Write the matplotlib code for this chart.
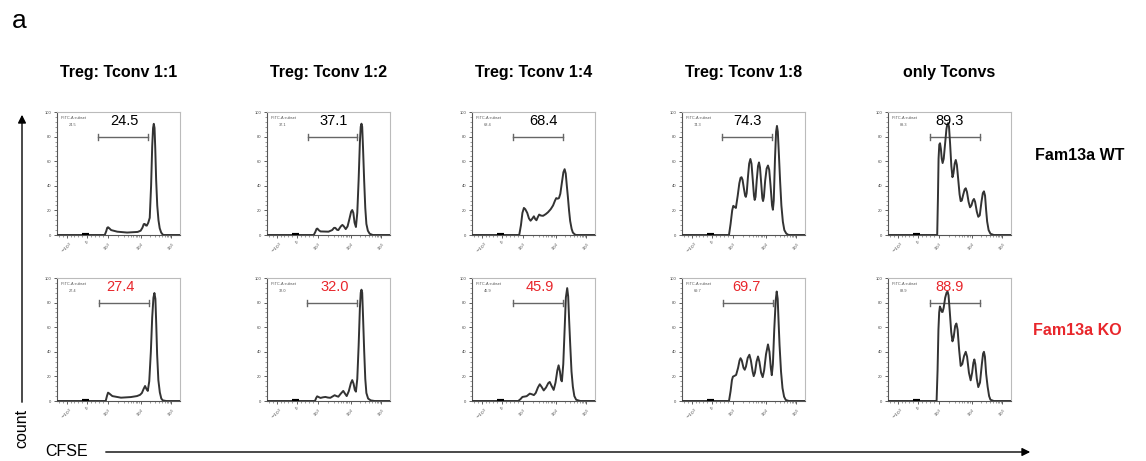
import matplotlib.pyplot as plt
from matplotlib.patches import FancyArrowPatch
import numpy as np

plt.rcParams['font.family'] = ['Liberation Sans', 'DejaVu Sans']

#----------------------------------------------------------------------------------------------------
# data (x = % of the logicle axis width, y = % of max)
#----------------------------------------------------------------------------------------------------
titles = ['Treg: Tconv 1:1', 'Treg: Tconv 1:2', 'Treg: Tconv 1:4', 'Treg: Tconv 1:8', 'only Tconvs']
row_labels = ['Fam13a WT', 'Fam13a KO']

pct_wt = ['24.5', '37.1', '68.4', '74.3', '89.3']
pct_ko = ['27.4', '32.0', '45.9', '69.7', '88.9']

gate_lo_wt = [33.6, 33.3, 33.0, 32.8, 34.0]
gate_hi_wt = [74.3, 73.3, 74.0, 73.1, 74.5]
gate_lo_ko = [34.2, 32.8, 33.0, 33.3, 34.1]
gate_hi_ko = [75.1, 72.8, 74.0, 73.7, 74.5]

num_x_wt = [54.6, 54.0, 57.8, 53.0, 49.7]
num_x_ko = [51.4, 55.0, 55.0, 52.0, 49.7]

wt_1 = [(0, 0), (38.8, 0), (40, 3), (40.8, 5.8), (41.5, 6.3), (42.5, 5.5), (44, 4), (49, 2.7), (57, 2), (65.6, 2.5),
        (68, 3.5), (69.5, 6), (70.5, 8.8), (71.3, 9), (72.2, 7.8), (73, 7.6), (74.2, 10), (75.4, 14), (76.5, 40),
        (77.4, 72), (78.1, 87), (78.7, 90.4), (79.3, 87), (79.9, 70), (80.6, 45), (81.5, 24), (82.5, 12), (83.5, 5.5),
        (84.7, 2), (86, 0.3), (87, 0), (100, 0)]
wt_2 = [(0, 0), (38, 0), (39.3, 2.5), (40.3, 5), (41, 5.2), (42, 4), (43.5, 2.9), (50, 2.7), (53, 4), (54.5, 5.8),
        (55.5, 5.8), (57, 4.2), (58, 4), (60, 7), (61.3, 8.2), (62.5, 7), (64, 4.8), (65.5, 7), (67, 13), (68.4, 19),
        (69.3, 20.3), (70.2, 18), (71.2, 10), (72.3, 6.5), (73.4, 18), (74.5, 45), (75.5, 75), (76.2, 88), (76.8, 90.5),
        (77.4, 88), (78.1, 70), (79, 44), (79.9, 22), (80.8, 9), (82, 3.5), (83.5, 1), (86, 0), (100, 0)]
wt_3 = [(0, 0), (38.4, 0), (39.8, 8), (41, 18), (42.2, 22), (43.3, 21), (44.9, 18), (46.3, 13.5), (47.6, 11.6),
        (48.8, 13), (50.3, 15.2), (51.4, 13), (52.4, 12), (53.5, 14.5), (54.6, 16.6), (56, 15.8), (57.8, 15.6),
        (60, 17), (61.8, 18.5), (64, 21), (65.9, 24), (67.5, 28), (68.5, 30), (69.6, 29.5), (70.7, 30), (71.8, 33.5),
        (73, 42), (74.3, 51), (75.3, 53.5), (76.2, 50), (77.1, 40), (77.9, 31.6), (78.9, 20), (79.8, 11.4), (81, 5),
        (82, 2), (83.5, 0.5), (84.7, 0), (100, 0)]
wt_4 = [(0, 0), (38.2, 0), (39.5, 9), (40.8, 20), (41.7, 23.7), (42.6, 23), (43.8, 22), (45.3, 32), (46.6, 42),
        (47.6, 46.5), (48.4, 47), (49.2, 45), (50.3, 38), (51.3, 32), (51.9, 31), (52.6, 34), (53.6, 47), (54.6, 58),
        (55.6, 61.8), (56.5, 58), (57.6, 44), (58.5, 32), (59.1, 28.5), (59.8, 31), (60.8, 45), (61.8, 56), (62.6, 59),
        (63.4, 55), (64.4, 42), (65.3, 30), (65.9, 27.6), (66.6, 31), (67.6, 44), (68.8, 54), (69.9, 56.5), (70.9, 53),
        (72, 40), (73.2, 24), (73.9, 20.5), (74.6, 28), (75.6, 62), (76.5, 84), (77.2, 88.7), (77.9, 84), (78.8, 65),
        (79.8, 43), (80.8, 24), (82, 10.8), (83.2, 4), (84.7, 1.3), (86, 0.3), (87.4, 0), (100, 0)]
wt_5 = [(0, 0), (40, 0), (40.6, 30), (41.1, 62), (41.7, 73.5), (42.3, 74.6), (43, 70), (43.7, 62), (44.4, 58.5),
        (45.3, 62), (46.4, 74), (47.5, 86), (48.2, 90), (48.9, 91), (49.6, 88), (50.5, 74), (51.5, 56), (52.4, 47),
        (53.2, 50), (54.2, 58), (55.1, 61), (56, 57), (57.2, 44), (58.2, 33), (59.1, 27.5), (60, 28), (61.2, 33),
        (62.3, 37), (63.2, 38), (64.2, 35), (65.5, 27), (66.7, 22.5), (67.8, 24), (69, 28), (69.9, 29.3), (70.8, 27),
        (72.2, 19), (73.4, 14.8), (74.6, 16), (76, 27), (77.1, 34), (78, 35.5), (78.9, 32), (79.8, 20), (80.6, 11),
        (81.8, 4), (83.3, 1), (86, 0), (100, 0)]

ko_1 = [(0, 0), (39.6, 0), (40.6, 4), (41.5, 6.8), (42.6, 6), (45, 4), (52, 2.7), (60, 3.2), (65, 4), (67.5, 5),
        (69, 6.5), (70.5, 10), (71.6, 12.2), (72.6, 10), (73.8, 8.2), (75, 16), (76.3, 40), (77.4, 68), (78.4, 84),
        (79.2, 87.8), (80, 83), (80.7, 62), (81.4, 38), (82.4, 17), (83.6, 7), (84.8, 2), (86, 0.5), (88.8, 0), (100, 0)]
ko_2 = [(0, 0), (39, 0), (40, 2.5), (40.8, 3.8), (42, 3.2), (43.5, 2.5), (45.5, 3), (47.5, 3.3), (49.5, 2.8),
        (51.5, 2.6), (53.5, 3.8), (55, 4.7), (56.5, 4), (58, 3.5), (60, 6), (62, 8.2), (63.4, 6), (64.8, 4), (66.5, 8),
        (68.2, 14.5), (69.3, 17), (70.4, 14), (71.4, 9), (72.3, 7.6), (73.4, 18), (74.5, 45), (75.5, 75), (76.2, 88),
        (76.8, 90.5), (77.4, 88), (78.1, 68), (79, 41), (79.9, 18), (80.8, 6.5), (82.2, 2), (84.3, 0.5), (87.5, 0),
        (100, 0)]
ko_3 = [(0, 0), (37.6, 0), (39.4, 1.5), (41, 3.3), (42.7, 3.6), (44.4, 3.9), (45.8, 5), (47, 6), (48.6, 5.5),
        (50.3, 4.8), (51.8, 6.5), (53.6, 11), (55.1, 13.6), (56.6, 11.5), (58.3, 8.6), (60.2, 11), (62, 14.5),
        (63.2, 15.5), (64.6, 12.5), (66.4, 9), (67.9, 15), (69.4, 25), (70.4, 29), (71.5, 24), (72.4, 17), (73.1, 16),
        (74.2, 30), (75.3, 58), (76.3, 84), (77.4, 91.8), (78.2, 85), (79, 65), (79.8, 47), (80.9, 24), (82, 11.6),
        (83.2, 4), (84.7, 1), (88, 0), (100, 0)]
ko_4 = [(0, 0), (38.2, 0), (39.5, 8), (40.6, 17), (41.4, 19.8), (42.6, 20.4), (44, 21.2), (45.6, 27), (46.8, 33),
        (47.6, 34.8), (48.6, 33), (50, 27), (51, 25.4), (52, 28), (53.4, 35), (54.8, 37.6), (56, 33), (57.4, 24),
        (58.3, 20.2), (59.3, 23), (60.6, 32), (61.8, 36.2), (62.9, 32), (64.3, 23), (65.6, 19.4), (66.8, 25),
        (68.3, 38), (69.9, 46), (71.1, 40), (72.2, 27), (73, 21), (73.9, 30), (75, 58), (76.2, 82), (77, 89),
        (77.8, 83), (78.5, 65), (79.3, 45.6), (80.5, 24), (81.7, 10.5), (83, 3.5), (84.4, 0.8), (87, 0), (100, 0)]
ko_5 = [(0, 0), (39.5, 0), (40.3, 25), (41, 58), (41.6, 72), (42.2, 76.8), (43, 75), (43.7, 72.5), (44.4, 72.4),
        (45.3, 76), (46.5, 84), (47.6, 88), (48.4, 89), (49.2, 86), (50.2, 73), (51.4, 56), (52.4, 48.5), (53.4, 52),
        (54.6, 61), (55.6, 63), (56.6, 58), (57.8, 42), (59.1, 28.5), (60.4, 30), (61.8, 36.5), (63.2, 40),
        (64.3, 36), (65.8, 23), (67.2, 16.8), (68.4, 23), (69.4, 31), (70.2, 33.8), (71, 30), (72.2, 18), (73.4, 11.3),
        (74.8, 15), (76.3, 30), (77.3, 38.5), (78, 40), (78.8, 36), (79.8, 22), (81, 11.6), (82.2, 4), (83.3, 1),
        (86, 0), (100, 0)]

curves = [[wt_1, wt_2, wt_3, wt_4, wt_5], [ko_1, ko_2, ko_3, ko_4, ko_5]]
pcts = [pct_wt, pct_ko]
gates = [(gate_lo_wt, gate_hi_wt), (gate_lo_ko, gate_hi_ko)]
num_x = [num_x_wt, num_x_ko]

# logicle tick positions along the axis
xtick_pos = [8, 24.5, 41.5, 68, 93]
xtick_lab = ['$-10^3$', '0', '$10^3$', '$10^4$', '$10^5$']

#----------------------------------------------------------------------------------------------------
# layout (pixels of the 1146x461 picture)
#----------------------------------------------------------------------------------------------------
W, H = 1146, 461
lefts = [57, 267, 472, 682, 888]
pw = 123
rows_top = [112, 278]
ph = 123
red = '#e8262b'

fig = plt.figure(figsize=(W / 100, H / 100), dpi=100)

minor_x = [2, 5, 11, 14, 17, 20, 28, 31, 34, 37]
for lo, hi in [(41.5, 68), (68, 93)]:
    minor_x += [lo + (hi - lo) * np.log10(k) for k in range(2, 10)]

for r in range(2):
    for c in range(5):
        ax = fig.add_axes([lefts[c] / W, 1 - (rows_top[r] + ph) / H, pw / W, ph / H])
        pts = np.array(curves[r][c])
        ax.plot(pts[:, 0], pts[:, 1], color='#333333', lw=1.4, zorder=3, solid_joinstyle='round')
        # events piled up at zero
        ax.plot([20.5, 26], [0, 0], color='k', lw=3, solid_capstyle='butt', zorder=4)

        lo, hi = gates[r][0][c], gates[r][1][c]
        ax.plot([lo, hi], [80, 80], color='#666666', lw=1)
        ax.plot([lo, lo], [77.5, 82.5], color='#666666', lw=1)
        ax.plot([hi, hi], [77.5, 82.5], color='#666666', lw=1)

        ax.text(num_x[r][c], 92.5, pcts[r][c], fontsize=10.5, ha='center', va='center',
                color='black' if r == 0 else red)
        ax.text(3, 95, 'FITC-A subset', fontsize=2.8, color='#555555', ha='left', va='center')
        ax.text(13, 89.5, pcts[r][c], fontsize=2.8, color='#555555', ha='center', va='center')

        ax.set_xlim(0, 100)
        ax.set_ylim(0, 100)
        ax.set_xticks(xtick_pos)
        ax.set_xticklabels(xtick_lab, fontsize=3.2, rotation=40, color='#444444')
        ax.set_xticks(minor_x, minor=True)
        ax.set_yticks([0, 20, 40, 60, 80, 100])
        ax.set_yticklabels(['0', '20', '40', '60', '80', '100'], fontsize=3, color='#444444')
        ax.set_yticks(np.arange(0, 101, 4), minor=True)
        ax.tick_params(which='major', length=2.5, width=0.6, pad=1.5, color='#444444')
        ax.tick_params(which='minor', length=1.2, width=0.5, color='#777777')
        for s in ['left', 'bottom']:
            ax.spines[s].set_color('#555555')
            ax.spines[s].set_linewidth(0.8)
        for s in ['top', 'right']:
            ax.spines[s].set_color('#bbbbbb')
            ax.spines[s].set_linewidth(0.8)

#----------------------------------------------------------------------------------------------------
# texts and arrows
#----------------------------------------------------------------------------------------------------
fig.text(12 / W, 1 - 28 / H, 'a', fontsize=19, ha='left', va='baseline')
for c in range(5):
    fig.text((lefts[c] + pw / 2) / W, 1 - 72 / H, titles[c], fontsize=11.5, fontweight='bold',
             ha='center', va='center')
fig.text(1035 / W, 1 - 155 / H, row_labels[0], fontsize=11.5, fontweight='bold', ha='left', va='center')
fig.text(1033 / W, 1 - 330 / H, row_labels[1], fontsize=11.5, fontweight='bold', ha='left', va='center', color=red)

fig.text(22 / W, 1 - 428 / H, 'count', fontsize=11.5, rotation=90, ha='center', va='center')
fig.text(45 / W, 1 - 451 / H, 'CFSE', fontsize=11.5, ha='left', va='center')

fig.add_artist(FancyArrowPatch((22 / W, 1 - 405 / H), (22 / W, 1 - 112 / H), transform=fig.transFigure,
                               arrowstyle='-|>', mutation_scale=12, lw=1, color='black'))
fig.add_artist(FancyArrowPatch((103 / W, 1 - 452 / H), (1033 / W, 1 - 452 / H), transform=fig.transFigure,
                               arrowstyle='-|>', mutation_scale=12, lw=1, color='black'))

fig.savefig('out.png', dpi=100)
